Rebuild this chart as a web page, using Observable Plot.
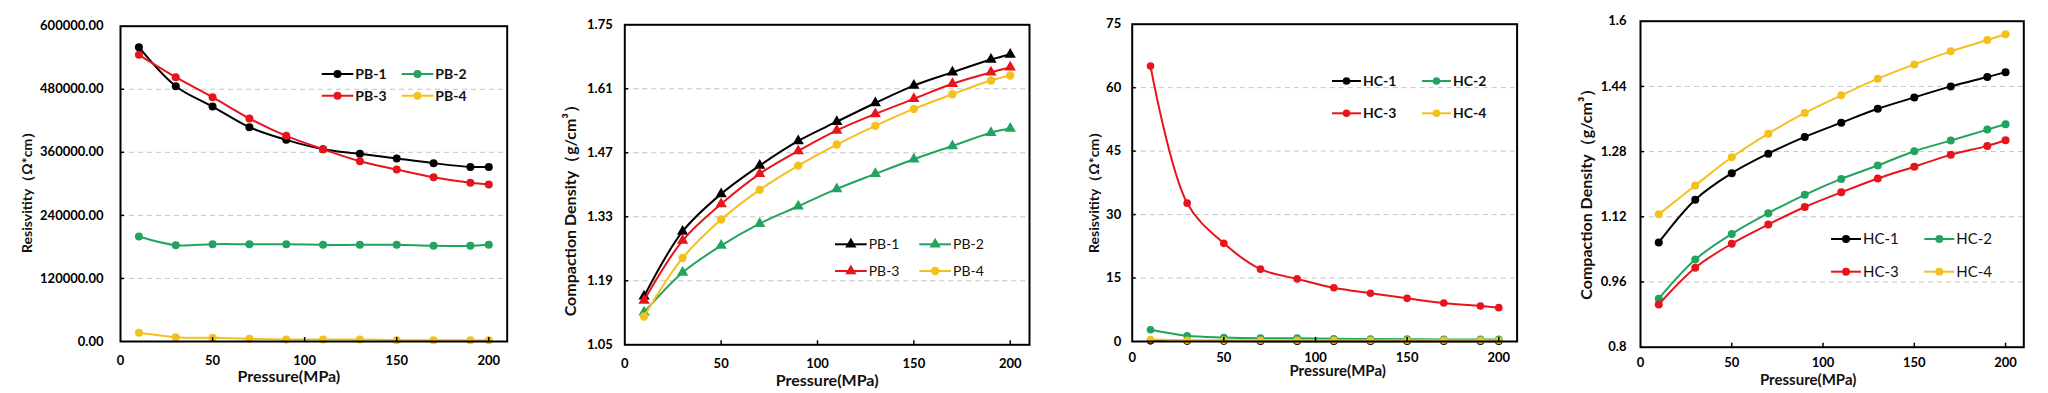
<!DOCTYPE html>
<html><head><meta charset="utf-8">
<script src="https://cdn.jsdelivr.net/npm/d3@7"></script>
<script src="https://cdn.jsdelivr.net/npm/@observablehq/plot@0.6"></script>
<style>
html,body{margin:0;padding:0;background:#fff;}
body{width:2048px;height:393px;overflow:hidden;position:relative;font-family:Lato,"Open Sans",sans-serif;}
.panel{position:absolute;top:0;}
#legend{position:absolute;left:0;top:0;pointer-events:none;}
</style></head><body>
<script>
// ---------------- data ----------------
const pressure = [10, 30, 50, 70, 90, 110, 130, 150, 170, 190, 200];
const pressureTicks = [0, 50, 100, 150, 200];

const pbNames = ["PB-1", "PB-2", "PB-3", "PB-4"];
const hcNames = ["HC-1", "HC-2", "HC-3", "HC-4"];

const pb1Res = [560000, 485800, 447100, 407800, 383700, 366000, 357100, 348200, 339300, 332300, 332300];
const pb2Res = [199800, 183300, 185200, 185200, 185200, 183900, 183900, 183900, 182000, 182000, 183900];
const pb3Res = [545500, 503000, 464900, 424300, 391300, 366000, 343100, 327300, 312700, 301900, 298700];
const pb4Res = [16500, 8200, 7000, 5100, 3800, 3800, 3800, 2500, 2500, 2500, 2500];

const pb1Den = [1.156, 1.298, 1.380, 1.442, 1.496, 1.538, 1.579, 1.617, 1.646, 1.674, 1.685];
const pb2Den = [1.121, 1.208, 1.267, 1.315, 1.353, 1.391, 1.424, 1.456, 1.485, 1.514, 1.523];
const pb3Den = [1.147, 1.278, 1.358, 1.424, 1.474, 1.519, 1.555, 1.588, 1.621, 1.646, 1.657];
const pb4Den = [1.112, 1.240, 1.324, 1.389, 1.442, 1.488, 1.529, 1.566, 1.598, 1.628, 1.639];

const hc1Res = [0.15, 0.10, 0.10, 0.08, 0.08, 0.07, 0.07, 0.06, 0.06, 0.06, 0.06];
const hc2Res = [2.76, 1.34, 0.95, 0.79, 0.79, 0.63, 0.60, 0.55, 0.50, 0.50, 0.50];
const hc3Res = [65.1, 32.7, 23.2, 17.1, 14.8, 12.7, 11.4, 10.2, 9.1, 8.4, 8.0];
const hc4Res = [0.47, 0.30, 0.30, 0.30, 0.30, 0.30, 0.30, 0.30, 0.30, 0.30, 0.30];

const hc1Den = [1.057, 1.162, 1.227, 1.275, 1.316, 1.351, 1.385, 1.413, 1.440, 1.463, 1.475];
const hc2Den = [0.919, 1.015, 1.078, 1.129, 1.174, 1.213, 1.246, 1.281, 1.307, 1.334, 1.347];
const hc3Den = [0.905, 0.995, 1.054, 1.101, 1.144, 1.180, 1.214, 1.243, 1.272, 1.294, 1.308];
const hc4Den = [1.126, 1.197, 1.266, 1.324, 1.375, 1.418, 1.459, 1.494, 1.526, 1.554, 1.568];

const pbResTicks = [0, 120000, 240000, 360000, 480000, 600000];
const pbDenTicks = [1.05, 1.19, 1.33, 1.47, 1.61, 1.75];
const hcResTicks = [0, 15, 30, 45, 60, 75];
const hcDenTicks = [0.8, 0.96, 1.12, 1.28, 1.44, 1.6];

const seriesColors = ["#000000", "#22a45e", "#e8141c", "#f3c01d"];

const xTitle = "Pressure(MPa)";
const resTitle = "Resisvitity（Ω*cm）";
const denTitle = "Compaction Density（g/cm³）";

// ---------------- layout ----------------
const panels = [
  {left: 0, width: 512, mt: 25.7, mb: 52, ml: 120, mr: 5.3,
   names: pbNames, values: [pb1Res, pb2Res, pb3Res, pb4Res], symbols: ["circle","circle","circle","circle"], r: 4,
   ticks: pbResTicks, fmt: d3.format(".2f"), yPad: 17, xPad: 14,
   yTitle: resTitle, yTitleSize: 14, yTitleDx: -93, yTitleDy: 5,
   xTitleDy: 35, xTitleDx: -25, xTitleSize: 16,
   legend: {cols: [321.7, 401.7], rows: [74, 95.7], len: 31.6, size: 14, weight: "bold"}},
  {left: 512, width: 522, mt: 24.3, mb: 48.7, ml: 112.3, mr: 5,
   names: pbNames, values: [pb1Den, pb2Den, pb3Den, pb4Den], symbols: ["triangle","triangle","triangle","circle"], r: 4.2,
   ticks: pbDenTicks, fmt: d3.format(".2f"), yPad: 12, xPad: 14,
   yTitle: denTitle, yTitleSize: 16, yTitleDx: -54, yTitleDy: 22,
   xTitleDy: 36, xTitleDx: 0, xTitleSize: 16,
   legend: {cols: [835, 919.3], rows: [244.3, 271], len: 31.7, size: 14, weight: "normal"}},
  {left: 1034, width: 490, mt: 23.7, mb: 52, ml: 97.7, mr: 7.4,
   names: hcNames, values: [hc1Res, hc2Res, hc3Res, hc4Res], symbols: ["circle","circle","circle","circle"], r: 3.8,
   ticks: hcResTicks, fmt: d3.format("d"), yPad: 11, xPad: 11,
   yTitle: resTitle, yTitleSize: 14, yTitleDx: -37.7, yTitleDy: 6,
   xTitleDy: 30, xTitleDx: 13, xTitleSize: 15,
   legend: {cols: [1332, 1422], rows: [81, 113.3], len: 29, size: 14, weight: "bold"}},
  {left: 1524, width: 524, mt: 20.7, mb: 46.3, ml: 116, mr: 24.7,
   names: hcNames, values: [hc1Den, hc2Den, hc3Den, hc4Den], symbols: ["circle","circle","circle","circle"], r: 4,
   ticks: hcDenTicks, fmt: d => String(d), yPad: 14, xPad: 11,
   yTitle: denTitle, yTitleSize: 16, yTitleDx: -54, yTitleDy: 6,
   xTitleDy: 33, xTitleDx: -24, xTitleSize: 15,
   legend: {cols: [1831, 1924.3], rows: [239, 271.7], len: 30, size: 15, weight: "normal"}}
];

const H = 393;
const font = "Lato, 'Open Sans', sans-serif";

panels.forEach(p => {
  const innerW = p.width - p.ml - p.mr;
  const innerH = H - p.mt - p.mb;
  const marks = [
    Plot.gridY(p.ticks.slice(1, -1), {stroke: "#c4c4c4", strokeOpacity: 1, strokeDasharray: "5,4", strokeWidth: 1})
  ];
  p.names.forEach((name, k) => {
    const rows = pressure.map((x, i) => ({x, y: p.values[k][i], name}));
    marks.push(Plot.line(rows, {x: "x", y: "y", stroke: seriesColors[k], strokeWidth: 2, curve: "catmull-rom"}));
    marks.push(Plot.dot(rows, {x: "x", y: "y", fill: seriesColors[k], stroke: "none", symbol: p.symbols[k], r: p.r}));
  });
  marks.push(
    Plot.tickX(pressureTicks.slice(1), {x: d => d, stroke: "black", strokeWidth: 1.5, insetTop: innerH - 4}),
    Plot.tickY(p.ticks.slice(1, -1), {y: d => d, stroke: "black", strokeWidth: 1.5, insetRight: innerW - 4}),
    Plot.axisX(pressureTicks, {tickSize: 0, tickPadding: p.xPad, label: null, fontSize: 13, fontWeight: "bold", tickFormat: d => String(d)}),
    Plot.axisY(p.ticks, {tickSize: 0, tickPadding: p.yPad, label: null, fontSize: 13, fontWeight: "bold", tickFormat: p.fmt}),
    Plot.text([xTitle], {frameAnchor: "bottom", dy: p.xTitleDy, dx: p.xTitleDx, lineAnchor: "middle", fontSize: p.xTitleSize, fontWeight: "bold", fill: "#111"}),
    Plot.text([p.yTitle], {frameAnchor: "left", dx: p.yTitleDx, dy: p.yTitleDy, rotate: -90, lineAnchor: "middle", textAnchor: "middle", fontSize: p.yTitleSize, fontWeight: "bold", fill: "#111"}),
    Plot.frame({stroke: "black", strokeWidth: 2})
  );
  const svg = Plot.plot({
    width: p.width, height: H,
    marginTop: p.mt, marginBottom: p.mb, marginLeft: p.ml, marginRight: p.mr,
    style: {fontFamily: font, fontSize: "13px", color: "#000", background: "transparent", overflow: "visible"},
    x: {domain: [0, 210]},
    y: {domain: [p.ticks[0], p.ticks[p.ticks.length - 1]]},
    marks
  });
  const div = document.createElement("div");
  div.className = "panel";
  div.style.left = p.left + "px";
  div.appendChild(svg);
  document.body.appendChild(div);
});

// ---------------- legends ----------------
const lg = d3.select("body").append("svg").attr("id", "legend").attr("width", 2048).attr("height", H);
panels.forEach(p => {
  const L = p.legend;
  p.names.forEach((name, k) => {
    const cx = L.cols[k % 2], cy = L.rows[Math.floor(k / 2)];
    const g = lg.append("g").attr("transform", `translate(${cx},${cy})`);
    g.append("line").attr("x1", 0).attr("x2", L.len).attr("y1", 0).attr("y2", 0)
      .attr("stroke", seriesColors[k]).attr("stroke-width", 2);
    const sym = p.symbols[k] === "triangle" ? d3.symbolTriangle : d3.symbolCircle;
    g.append("path").attr("transform", `translate(${L.len / 2},0)`)
      .attr("d", d3.symbol(sym, Math.PI * p.r * p.r)()).attr("fill", seriesColors[k]);
    g.append("text").attr("x", L.len + 2).attr("y", 0).attr("dy", "0.35em")
      .attr("font-family", font).attr("font-size", L.size).attr("font-weight", L.weight)
      .attr("fill", "#111").text(name);
  });
});
</script>
</body></html>
